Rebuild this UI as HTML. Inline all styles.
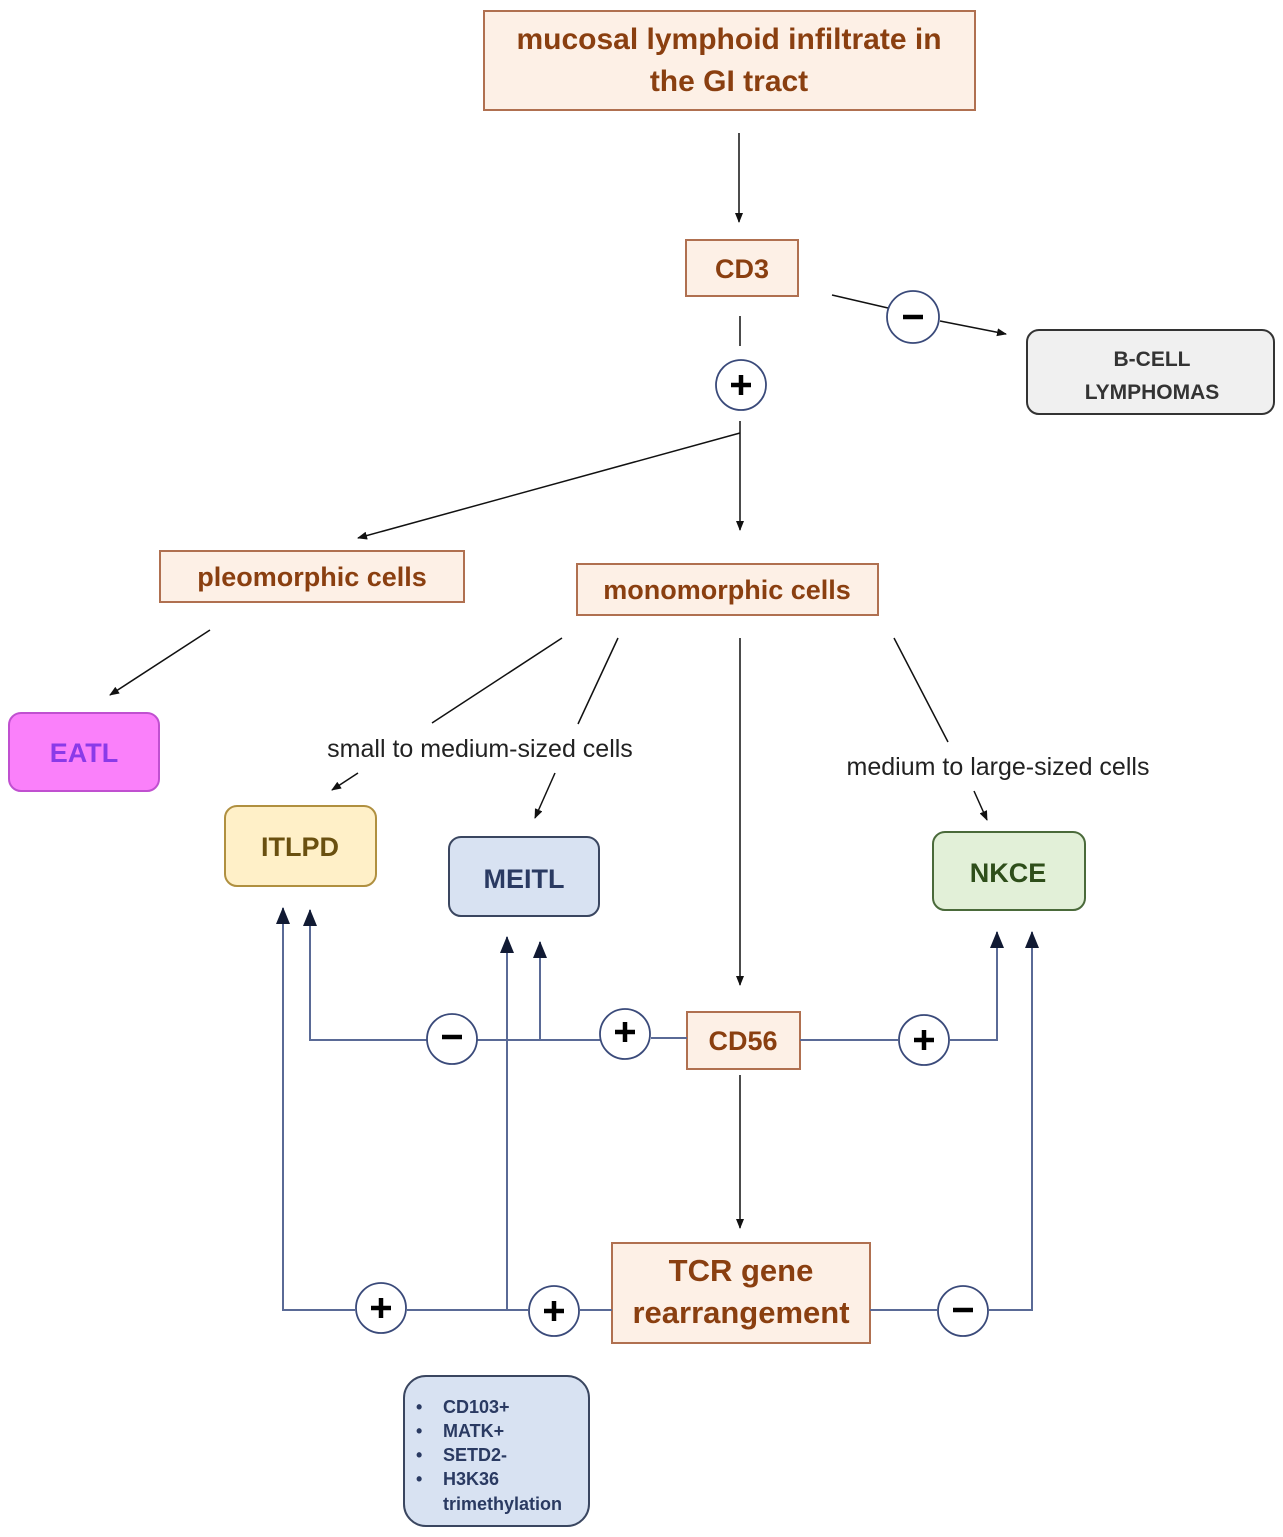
<!DOCTYPE html>
<html><head><meta charset="utf-8"><style>
html,body{margin:0;padding:0;background:#fff;}
svg{display:block;}
text{font-family:"Liberation Sans",sans-serif;}
</style></head><body>
<svg width="1283" height="1537" viewBox="0 0 1283 1537" xmlns="http://www.w3.org/2000/svg">
<defs>
<marker id="a" markerWidth="10" markerHeight="8" refX="9" refY="4" orient="auto" markerUnits="userSpaceOnUse"><path d="M0,0 L10,4 L0,8 z" fill="#111"/></marker>
<marker id="b" markerWidth="18" markerHeight="14" refX="16" refY="7" orient="auto" markerUnits="userSpaceOnUse"><path d="M0,0 L17,7 L0,14 z" fill="#111a33"/></marker>
</defs>
<g fill="#fdf0e6" stroke="#b07050" stroke-width="2">
<rect x="484" y="11" width="491" height="99"/>
<rect x="686" y="240" width="112" height="56"/>
<rect x="160" y="551" width="304" height="51"/>
<rect x="577" y="564" width="301" height="51"/>
<rect x="687" y="1012" width="113" height="57"/>
<rect x="612" y="1243" width="258" height="100"/>
</g>
<g font-weight="bold" fill="#8a3f10" text-anchor="middle" font-size="27">
<text x="729" y="49" font-size="30">mucosal lymphoid infiltrate in</text>
<text x="729" y="91" font-size="30">the GI tract</text>
<text x="742" y="278">CD3</text>
<text x="312" y="586">pleomorphic cells</text>
<text x="727" y="599">monomorphic cells</text>
<text x="743" y="1050">CD56</text>
<text x="741" y="1281" font-size="31">TCR gene</text>
<text x="741" y="1323" font-size="31">rearrangement</text>
</g>
<rect x="1027" y="330" width="247" height="84" rx="12" fill="#f0f0f0" stroke="#333" stroke-width="2"/>
<text x="1152" y="366" font-size="21" font-weight="bold" fill="#333" text-anchor="middle">B-CELL</text>
<text x="1152" y="399" font-size="21" font-weight="bold" fill="#333" text-anchor="middle">LYMPHOMAS</text>
<rect x="9" y="713" width="150" height="78" rx="12" fill="#fa80fa" stroke="#c050d0" stroke-width="2"/>
<text x="84" y="762" font-size="27" font-weight="bold" fill="#8a3ae8" text-anchor="middle">EATL</text>
<rect x="225" y="806" width="151" height="80" rx="12" fill="#fff0c8" stroke="#b09040" stroke-width="2"/>
<text x="300" y="856" font-size="27" font-weight="bold" fill="#6a5010" text-anchor="middle">ITLPD</text>
<rect x="449" y="837" width="150" height="79" rx="12" fill="#d8e2f2" stroke="#3a4660" stroke-width="2"/>
<text x="524" y="888" font-size="27" font-weight="bold" fill="#2a3a62" text-anchor="middle">MEITL</text>
<rect x="933" y="832" width="152" height="78" rx="12" fill="#e2f0d8" stroke="#4a6a3a" stroke-width="2"/>
<text x="1008" y="882" font-size="27" font-weight="bold" fill="#2e4e1a" text-anchor="middle">NKCE</text>
<rect x="404" y="1376" width="185" height="150" rx="22" fill="#d8e2f2" stroke="#3a4660" stroke-width="2"/>
<g font-size="18" font-weight="bold" fill="#2a3a62">
<text x="416" y="1413">•</text><text x="443" y="1413">CD103+</text>
<text x="416" y="1437">•</text><text x="443" y="1437">MATK+</text>
<text x="416" y="1461">•</text><text x="443" y="1461">SETD2-</text>
<text x="416" y="1485">•</text><text x="443" y="1485">H3K36</text>
<text x="443" y="1510">trimethylation</text>
</g>
<g font-size="25" fill="#222" text-anchor="middle">
<text x="480" y="757">small to medium-sized cells</text>
<text x="998" y="775">medium to large-sized cells</text>
</g>
<g stroke="#111" stroke-width="1.5" fill="none">
<line x1="739" y1="133" x2="739" y2="222" marker-end="url(#a)"/>
<line x1="832" y1="295" x2="888" y2="308"/>
<line x1="940" y1="321" x2="1006" y2="334" marker-end="url(#a)"/>
<line x1="740" y1="316" x2="740" y2="346"/>
<line x1="740" y1="421" x2="740" y2="530" marker-end="url(#a)"/>
<line x1="740" y1="433" x2="358" y2="538" marker-end="url(#a)"/>
<line x1="210" y1="630" x2="110" y2="695" marker-end="url(#a)"/>
<line x1="562" y1="638" x2="432" y2="723"/>
<line x1="358" y1="773" x2="332" y2="790" marker-end="url(#a)"/>
<line x1="618" y1="638" x2="578" y2="724"/>
<line x1="555" y1="773" x2="535" y2="818" marker-end="url(#a)"/>
<line x1="740" y1="638" x2="740" y2="985" marker-end="url(#a)"/>
<line x1="894" y1="638" x2="948" y2="742"/>
<line x1="974" y1="791" x2="987" y2="820" marker-end="url(#a)"/>
<line x1="740" y1="1075" x2="740" y2="1228" marker-end="url(#a)"/>
</g>
<g stroke="#5a6a96" stroke-width="2" fill="none">
<polyline points="427,1040 310,1040 310,910" marker-end="url(#b)"/>
<line x1="477" y1="1040" x2="600" y2="1040"/>
<polyline points="540,1040 540,942" marker-end="url(#b)"/>
<line x1="651" y1="1038" x2="687" y2="1038"/>
<line x1="800" y1="1040" x2="898" y2="1040"/>
<polyline points="950,1040 997,1040 997,932" marker-end="url(#b)"/>
<polyline points="355,1310 283,1310 283,908" marker-end="url(#b)"/>
<line x1="407" y1="1310" x2="528" y2="1310"/>
<polyline points="507,1310 507,937" marker-end="url(#b)"/>
<line x1="580" y1="1310" x2="612" y2="1310"/>
<line x1="870" y1="1310" x2="937" y2="1310"/>
<polyline points="989,1310 1032,1310 1032,932" marker-end="url(#b)"/>
</g>
<g fill="#fff" stroke="#3a4a7a" stroke-width="1.8">
<circle cx="913" cy="317" r="26"/>
<circle cx="741" cy="385" r="25"/>
<circle cx="452" cy="1039" r="25"/>
<circle cx="625" cy="1034" r="25"/>
<circle cx="924" cy="1040" r="25"/>
<circle cx="381" cy="1308" r="25"/>
<circle cx="554" cy="1311" r="25"/>
<circle cx="963" cy="1311" r="25"/>
</g>
<g stroke="#000" stroke-width="4.5">
<line x1="903" y1="317" x2="923" y2="317"/>
<line x1="731" y1="385" x2="751" y2="385"/><line x1="741" y1="375" x2="741" y2="395"/>
<line x1="442" y1="1037" x2="462" y2="1037"/>
<line x1="615" y1="1032" x2="635" y2="1032"/><line x1="625" y1="1022" x2="625" y2="1042"/>
<line x1="914" y1="1040" x2="934" y2="1040"/><line x1="924" y1="1030" x2="924" y2="1050"/>
<line x1="371" y1="1308" x2="391" y2="1308"/><line x1="381" y1="1298" x2="381" y2="1318"/>
<line x1="544" y1="1311" x2="564" y2="1311"/><line x1="554" y1="1301" x2="554" y2="1321"/>
<line x1="953" y1="1310" x2="973" y2="1310"/>
</g>
</svg>
</body></html>
